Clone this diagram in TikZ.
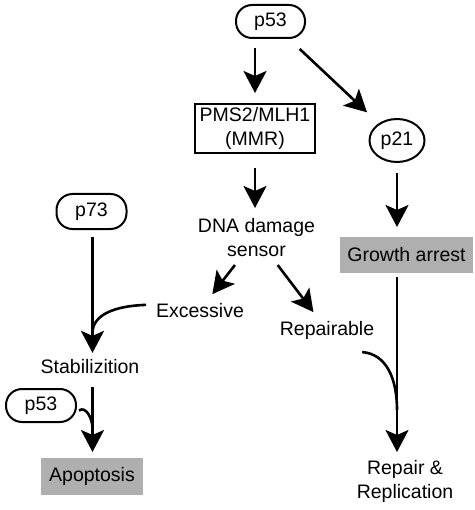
\documentclass[tikz,border=0pt]{standalone}
\usepackage{fontspec}
\setmainfont{Liberation Sans}
\usetikzlibrary{arrows.meta,shapes.geometric}
\definecolor{boxgray}{RGB}{175,175,175}
\begin{document}
\begin{tikzpicture}[x=1pt,y=-1pt,
  every node/.style={font=\fontsize{19.5}{24}\selectfont, outer sep=0pt},
  pill/.style={draw, line width=2pt, rounded corners=16pt, inner sep=0pt},
  sqbox/.style={draw, line width=2pt, inner sep=0pt, align=center},
  oval/.style={draw, ellipse, line width=2pt, inner sep=0pt},
  graybox/.style={fill=boxgray, inner sep=0pt},
  txt/.style={inner sep=0pt, align=center},
  arr/.style={line width=2.6pt, -{Stealth[length=22pt,width=23pt,inset=5pt]}},
  conn/.style={line width=2.6pt}
]
\useasboundingbox (0,0) rectangle (474,510);
% nodes
\node[pill, minimum width=69pt, minimum height=33pt] (p53a) at (270.5,21.5) {p53};
\node[sqbox, minimum width=120pt, minimum height=49pt] (pms) at (255,128.5) {PMS2/MLH1\\(MMR)};
\node[oval, minimum width=55pt, minimum height=43pt] (p21) at (397,140.5) {p21};
\node[graybox, minimum width=133pt, minimum height=36pt] (growth) at (406.5,255) {Growth arrest};
\node[txt, anchor=north] (sensor) at (256.5,218) {DNA damage\\sensor};
\node[txt, anchor=base] (exc) at (200,317) {Excessive};
\node[txt, anchor=base] (rep) at (327,335) {Repairable};
\node[txt, anchor=north] (repl) at (405,460) {Repair \&\\Replication};
\node[pill, minimum width=70pt, minimum height=35pt] (p73) at (91.5,211.5) {p73};
\node[txt, anchor=base] (stab) at (90,373) {Stabilizition};
\node[pill, minimum width=70pt, minimum height=33pt] (p53b) at (41,405.5) {p53};
\node[graybox, minimum width=102pt, minimum height=37pt] (apo) at (92,476.5) {Apoptosis};
% merge points
\coordinate (ml) at (92.5,333);
\coordinate (ml2) at (92.5,428);
\coordinate (mr) at (397,410);
% connectors
\draw[arr, shorten <=10pt, shorten >=11pt] (pms.north |- p53a.south) -- (pms.north);
\draw[arr, shorten <=16pt, shorten >=17pt] (p53a) -- (p21);
\draw[arr, shorten <=15pt, shorten >=10pt] (pms.south) -- (pms.south |- sensor.north);
\draw[arr, shorten <=11pt, shorten >=10pt] (p21.south) -- (p21.south |- growth.north);
\draw[arr, shorten <=4pt, shorten >=8pt] (growth.south -| p21.south) -- (p21.south |- repl.north);
\draw[arr, shorten <=11pt, shorten >=11pt] (sensor) -- (exc);
\draw[arr, shorten <=11pt, shorten >=11pt] (sensor) -- (rep);
\draw[arr, shorten <=8pt, shorten >=6pt] (ml |- p73.south) -- (ml |- stab.north);
\draw[arr, shorten <=14pt, shorten >=6pt] (ml |- stab.south) -- (ml |- apo.north);
\draw[conn] ([xshift=-10pt,yshift=-2pt]exc.north west) .. controls +(-32,1) and +(0,-18) .. (ml);
\draw[conn] ([xshift=-12pt,yshift=-13pt]rep.south east) .. controls +(24,2) and +(0,-32) .. (mr);
\draw[conn] ([xshift=3pt,yshift=-5pt]p53b.east) .. controls +(7,-5) and +(0,-9) .. (ml2);
\end{tikzpicture}
\end{document}
